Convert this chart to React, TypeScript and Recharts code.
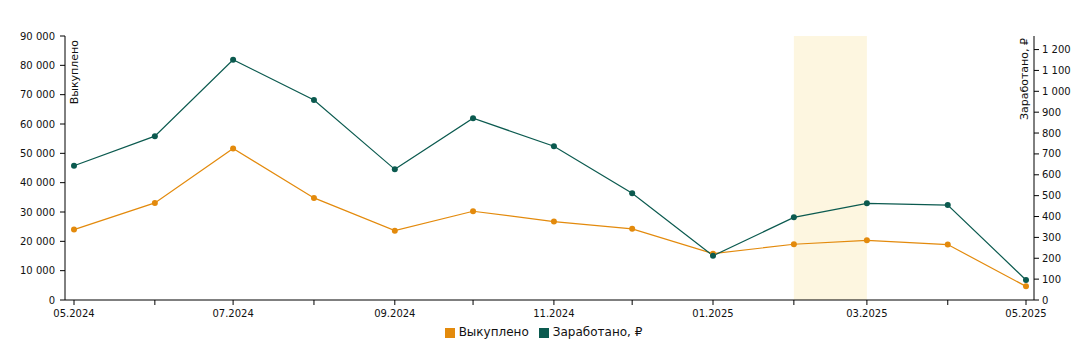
import React from "react";
import {
  LineChart,
  Line,
  XAxis,
  YAxis,
  Legend,
  ReferenceArea,
} from "recharts";

const months = [
  "2024-05", "2024-06", "2024-07", "2024-08", "2024-09", "2024-10", "2024-11",
  "2024-12", "2025-01", "2025-02", "2025-03", "2025-04", "2025-05",
];
const bought = [
  24000, 33100, 51650, 34800, 23650, 30250, 26750, 24250, 15800, 19000, 20350,
  18900, 4650,
];
const earned = [643, 785, 1151, 958, 626, 871, 737, 511, 212, 396, 463, 455, 96];
const leftTicks = [0, 10000, 20000, 30000, 40000, 50000, 60000, 70000, 80000, 90000];
const rightTicks = [0, 100, 200, 300, 400, 500, 600, 700, 800, 900, 1000, 1100, 1200];
const highlight = ["2025-02", "2025-03"];

const ORANGE = "#e38a0c";
const GREEN = "#0b5a4f";
const FONT = "'DejaVu Sans', Verdana, sans-serif";

const toTime = (m: string) => {
  const [y, mo] = m.split("-").map(Number);
  return Date.UTC(y, mo - 1, 1);
};

const monthTicks = months.map(toTime);

const data = months.map((m, i) => ({
  t: toTime(m),
  bought: bought[i],
  earned: earned[i],
}));

const fmtNum = (v: number) => String(v).replace(/\B(?=(\d{3})+(?!\d))/g, " ");

const fmtMonth = (v: number) => {
  const d = new Date(v);
  const mo = d.getUTCMonth() + 1;
  if (mo % 2 === 0) return "";
  return `${String(mo).padStart(2, "0")}.${d.getUTCFullYear()}`;
};

const tickStyle = { fontSize: 10, fill: "#111", fontFamily: FONT };

function LeftLabel(props: any) {
  const { x, y, width } = props.viewBox;
  const lx = x + width + 13;
  const ly = y + 4;
  return (
    <text
      x={lx}
      y={ly}
      transform={`rotate(-90, ${lx}, ${ly})`}
      textAnchor="end"
      fontSize={11}
      fontFamily={FONT}
      fill="#111"
    >
      Выкуплено
    </text>
  );
}

function RightLabel(props: any) {
  const { x, y } = props.viewBox;
  const lx = x - 6;
  const ly = y + 2;
  return (
    <text
      x={lx}
      y={ly}
      transform={`rotate(-90, ${lx}, ${ly})`}
      textAnchor="end"
      fontSize={11}
      fontFamily={FONT}
      fill="#111"
    >
      Заработано, ₽
    </text>
  );
}

export default function App() {
  return (
    <div style={{ fontFamily: FONT }}>
      <LineChart
        width={1071}
        height={340}
        data={data}
        margin={{ top: 28, right: 0, bottom: 3, left: 0 }}
      >
        <XAxis
          dataKey="t"
          type="number"
          scale="time"
          domain={["dataMin", "dataMax"]}
          padding={{ left: 9, right: 8 }}
          ticks={monthTicks}
          interval={0}
          tickFormatter={fmtMonth}
          tick={tickStyle}
          tickSize={5}
          tickMargin={5}
          height={25}
          stroke="#000"
        />
        <YAxis
          yAxisId="left"
          domain={[0, 90000]}
          ticks={leftTicks}
          tickFormatter={fmtNum}
          tick={tickStyle}
          tickSize={5}
          tickMargin={5}
          width={57}
          stroke="#000"
          label={<LeftLabel />}
        />
        <YAxis
          yAxisId="right"
          orientation="right"
          domain={[0, 1265]}
          ticks={rightTicks}
          tickFormatter={fmtNum}
          tick={tickStyle}
          tickSize={5}
          tickMargin={3}
          width={45}
          stroke="#000"
          label={<RightLabel />}
        />
        <ReferenceArea
          yAxisId="left"
          x1={toTime(highlight[0])}
          x2={toTime(highlight[1])}
          y1={0}
          y2={90000}
          fill="#fdf6e0"
          fillOpacity={1}
          stroke="none"
        />
        <Legend
          verticalAlign="bottom"
          height={20}
          iconType="square"
          iconSize={10}
          wrapperStyle={{ fontSize: 12, fontFamily: FONT, left: 5 }}
          formatter={(value: string) => <span style={{ color: "#111" }}>{value}</span>}
        />
        <Line
          yAxisId="left"
          dataKey="bought"
          name="Выкуплено"
          stroke={ORANGE}
          strokeWidth={1.2}
          dot={{ r: 3, fill: ORANGE, stroke: ORANGE, strokeWidth: 0 }}
          activeDot={false}
          isAnimationActive={false}
        />
        <Line
          yAxisId="right"
          dataKey="earned"
          name="Заработано, ₽"
          stroke={GREEN}
          strokeWidth={1.2}
          dot={{ r: 3, fill: GREEN, stroke: GREEN, strokeWidth: 0 }}
          activeDot={false}
          isAnimationActive={false}
        />
      </LineChart>
    </div>
  );
}
